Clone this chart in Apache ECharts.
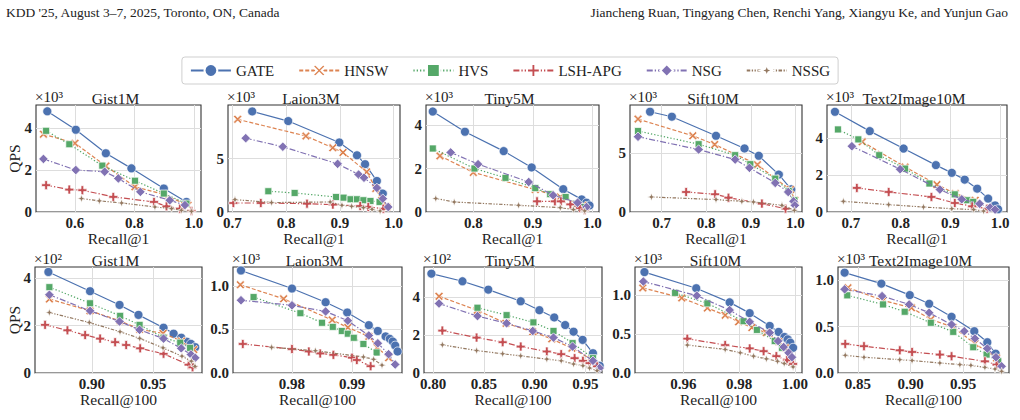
<!DOCTYPE html>
<html><head><meta charset="utf-8">
<script src="https://cdn.jsdelivr.net/npm/echarts@6/dist/echarts.min.js"></script>
<style>html,body{margin:0;padding:0;background:#fff}#c{width:1020px;height:420px}</style>
</head><body><div id="c"></div>
<script>
// ---------------- DATA (recall, QPS) ----------------
const methods = ['GATE','HNSW','HVS','LSH-APG','NSG','NSSG'];
const datasets = ['Gist1M','Laion3M','Tiny5M','Sift10M','Text2Image10M'];

// Row 1: Recall@1
const gist_r1_GATE = [[0.507,4800],[0.603,3920],[0.704,2800],[0.790,2080],[0.899,1120],[0.975,480]];
const gist_r1_HNSW = [[0.494,3710],[0.600,3280],[0.704,2190],[0.802,1200],[0.897,850],[0.980,320]];
const gist_r1_HVS = [[0.503,3870],[0.581,3230],[0.692,2210],[0.802,1490],[0.899,880],[0.975,400]];
const gist_r1_LSH = [[0.503,1280],[0.581,1070],[0.625,1040],[0.729,720],[0.866,480],[0.908,270],[0.953,160],[0.992,50]];
const gist_r1_NSG = [[0.494,2530],[0.603,2000],[0.700,1920],[0.746,1600],[0.820,960],[0.919,560],[0.970,330]];
const gist_r1_NSSG = [[0.622,640],[0.682,530],[0.757,430],[0.869,240],[0.925,160],[0.958,80],[0.992,30]];

const laion_r1_GATE = [[0.737,9400],[0.804,8500],[0.899,6500],[0.932,5300],[0.947,4470],[0.969,2900],[0.980,1720]];
const laion_r1_HNSW = [[0.710,8660],[0.837,7100],[0.887,6000],[0.906,5560],[0.950,3750],[0.967,2200],[0.978,1100],[0.988,470]];
const laion_r1_HVS = [[0.767,1940],[0.816,1780],[0.893,1400],[0.907,1340],[0.920,1190],[0.932,1190],[0.944,1100],[0.957,1030],[0.974,940]];
const laion_r1_LSH = [[0.702,840],[0.753,840],[0.839,780],[0.887,690],[0.938,560],[0.953,470],[0.981,310]];
const laion_r1_NSG = [[0.725,6900],[0.794,6100],[0.896,4500],[0.935,3500],[0.945,3200],[0.969,2250],[0.980,1250],[0.990,470]];
const laion_r1_NSSG = [[0.705,1160],[0.773,880],[0.882,940],[0.904,630],[0.922,530],[0.944,410],[0.960,250],[0.975,90]];

const tiny_r1_GATE = [[0.732,4620],[0.786,3690],[0.851,2800],[0.898,2050],[0.951,1050],[0.982,580],[0.990,430],[0.995,300]];
const tiny_r1_HNSW = [[0.744,2580],[0.800,1820],[0.904,1030],[0.946,690],[0.984,310]];
const tiny_r1_HVS = [[0.732,2920],[0.802,2000],[0.854,1570],[0.904,1100],[0.929,820],[0.955,690],[0.973,380],[0.987,230]];
const tiny_r1_LSH = [[0.907,490],[0.937,490],[0.947,490],[0.963,350],[0.979,180],[0.987,80]];
const tiny_r1_NSG = [[0.762,2740],[0.808,2200],[0.893,1380],[0.934,770],[0.975,430],[0.990,230]];
const tiny_r1_NSSG = [[0.737,620],[0.768,460],[0.876,310],[0.946,200],[0.968,110],[0.987,50]];

const sift_r1_GATE = [[0.674,8470],[0.723,8050],[0.822,6440],[0.886,5370],[0.918,4750],[0.963,3160],[0.991,1920]];
const sift_r1_HNSW = [[0.647,7850],[0.770,6440],[0.819,5700],[0.915,4000],[0.955,2800],[0.989,1900],[0.999,1000]];
const sift_r1_HVS = [[0.647,6840],[0.783,5730],[0.865,4800],[0.899,4040],[0.955,2820],[0.985,1780],[0.998,990]];
const sift_r1_LSH = [[0.755,1690],[0.820,1500],[0.850,1210],[0.925,710],[0.978,280]];
const sift_r1_NSG = [[0.647,6360],[0.783,5280],[0.865,4430],[0.897,3730],[0.955,2460],[0.984,1690],[0.996,900],[0.999,560]];
const sift_r1_NSSG = [[0.677,1270],[0.822,1050],[0.880,900],[0.906,850],[0.970,560],[0.998,140]];

const t2i_r1_GATE = [[0.668,5450],[0.738,4400],[0.806,3450],[0.871,2550],[0.903,2130],[0.929,1760],[0.954,1270],[0.976,730],[0.990,360],[0.996,150]];
const t2i_r1_HNSW = [[0.723,3820],[0.809,2450],[0.873,1490],[0.910,1000],[0.950,640]];
const t2i_r1_HVS = [[0.674,4490],[0.715,3950],[0.757,3090],[0.809,2360],[0.858,1550],[0.909,960],[0.934,640],[0.946,550]];
const t2i_r1_LSH = [[0.712,1310],[0.776,1090],[0.862,820],[0.909,490],[0.944,310],[0.974,180]];
const t2i_r1_NSG = [[0.702,3580],[0.799,2330],[0.879,1220],[0.923,690],[0.959,450],[0.980,240],[0.990,130]];
const t2i_r1_NSSG = [[0.685,580],[0.776,400],[0.846,270],[0.903,180],[0.947,130],[0.967,50]];

// Row 2: Recall@100
const gist_r100_GATE = [[0.8647,426],[0.8986,345],[0.9226,287],[0.938,245],[0.9584,191],[0.9666,166],[0.9728,149],[0.9774,132],[0.9807,123],[0.9842,109]];
const gist_r100_HNSW = [[0.8655,312],[0.8986,262],[0.923,220],[0.939,184],[0.958,167],[0.973,135],[0.983,99]];
const gist_r100_HVS = [[0.8655,362],[0.8986,294],[0.9231,241],[0.9389,203],[0.9584,149],[0.972,128],[0.980,106]];
const gist_r100_LSH = [[0.862,203],[0.8802,180],[0.8946,160],[0.9068,145],[0.919,130],[0.928,118],[0.9394,104],[0.9584,81],[0.9788,35],[0.982,24]];
const gist_r100_NSG = [[0.8655,330],[0.8986,262],[0.9226,217],[0.9389,182],[0.9584,145],[0.9728,104],[0.9807,78],[0.9842,64]];
const gist_r100_NSSG = [[0.8655,255],[0.898,213],[0.923,174],[0.939,146],[0.958,106],[0.9734,71],[0.981,50],[0.984,28]];

const laion_r100_GATE = [[0.9715,1176],[0.98,969],[0.9856,812],[0.9892,694],[0.9928,549],[0.9943,482],[0.9956,420],[0.9963,392],[0.9968,361],[0.9972,314],[0.9976,247]];
const laion_r100_HNSW = [[0.9714,1012],[0.9786,851],[0.9867,608],[0.9893,522],[0.9928,420],[0.9942,294],[0.9961,176]];
const laion_r100_HVS = [[0.9736,871],[0.9814,686],[0.985,576],[0.9868,529],[0.9883,482],[0.9893,451],[0.9903,404],[0.9919,333],[0.9941,235]];
const laion_r100_LSH = [[0.9718,333],[0.98,275],[0.9828,247],[0.9847,224],[0.9869,208],[0.99,176],[0.9908,149],[0.9931,78]];
const laion_r100_NSG = [[0.9715,835],[0.98,776],[0.9856,706],[0.9893,600],[0.9928,431],[0.9943,341],[0.9961,216],[0.9972,98]];
const laion_r100_NSSG = [[0.9766,294],[0.9839,255],[0.9919,184],[0.9936,157],[0.995,90]];

const tiny_r100_GATE = [[0.7984,522],[0.829,482],[0.8544,438],[0.8864,377],[0.9048,330],[0.9194,292],[0.9302,252],[0.9385,217],[0.9474,174],[0.9576,104],[0.9642,38]];
const tiny_r100_HNSW = [[0.8059,403],[0.8435,330],[0.8719,261],[0.8983,217],[0.917,179],[0.9368,130],[0.9566,70]];
const tiny_r100_HVS = [[0.8438,343],[0.8725,304],[0.8989,266],[0.9187,221],[0.9375,157],[0.9576,78]];
const tiny_r100_LSH = [[0.8092,223],[0.8429,186],[0.8686,162],[0.8864,139],[0.9121,113],[0.9263,99],[0.9395,78],[0.9477,64],[0.9543,52],[0.9616,35]];
const tiny_r100_NSG = [[0.8059,365],[0.8438,299],[0.8725,261],[0.8983,221],[0.9187,186],[0.9375,139],[0.9576,64],[0.9642,26]];
const tiny_r100_NSSG = [[0.8092,148],[0.8429,118],[0.8686,101],[0.8864,90],[0.9121,73],[0.9263,64],[0.9385,47],[0.9477,38],[0.9543,26],[0.9616,12]];

const sift_r100_GATE = [[0.946,1293],[0.9646,1086],[0.9766,905],[0.9838,767],[0.991,603],[0.9942,526],[0.9963,461],[0.9975,431],[0.9984,388],[0.9994,323]];
const sift_r100_HNSW = [[0.9454,1090],[0.9594,961],[0.9686,832],[0.975,741],[0.9798,655],[0.9846,582],[0.9898,517],[0.9942,401],[0.9966,323]];
const sift_r100_HVS = [[0.957,1026],[0.9686,892],[0.9816,664],[0.9864,552],[0.9928,409],[0.9954,323]];
const sift_r100_LSH = [[0.9614,440],[0.975,358],[0.9838,315],[0.9888,280],[0.9934,216],[0.9972,164],[0.9994,116]];
const sift_r100_NSG = [[0.9456,1172],[0.9648,991],[0.9766,806],[0.9838,655],[0.991,517],[0.994,409],[0.996,332],[0.9978,259],[0.999,203]];
const sift_r100_NSSG = [[0.9614,358],[0.975,302],[0.9804,259],[0.9852,216],[0.9898,181],[0.9938,151],[0.9962,121],[0.9994,78]];

const t2i_r100_GATE = [[0.8373,1083],[0.8722,964],[0.8992,841],[0.9176,747],[0.9389,606],[0.9605,451],[0.9729,332],[0.9808,209]];
const t2i_r100_HNSW = [[0.8405,920],[0.8738,783],[0.9008,704],[0.9192,578],[0.9405,495],[0.9611,318],[0.9817,162]];
const t2i_r100_HVS = [[0.8398,838],[0.8738,740],[0.8944,661],[0.9192,542],[0.9405,444],[0.9595,278],[0.9722,199],[0.9833,126]];
const t2i_r100_LSH = [[0.8379,314],[0.8557,289],[0.8897,245],[0.9014,227],[0.9278,199],[0.9389,181],[0.9706,126],[0.9817,90]];
const t2i_r100_NSG = [[0.8373,903],[0.8729,830],[0.8986,740],[0.9176,650],[0.9389,523],[0.951,451],[0.9611,372],[0.9729,264],[0.9811,170],[0.9865,72]];
const t2i_r100_NSSG = [[0.8379,191],[0.8557,170],[0.8897,144],[0.9014,134],[0.9278,108],[0.9468,90],[0.9573,83],[0.9706,61],[0.9802,43],[0.9865,18]];

// Axis ranges and tick labels
const xRange = [[0.469,1.024],[0.692,1.012],[0.7206,1.011],[0.629,1.015],[0.652,1.014],
                [0.8538,0.9897],[0.97017,0.99833],[0.7911,0.9665],[0.9426,1.0026],[0.831,0.9935]];
const yMax = [5100,10000,4920,9040,5820, 447,1216,557,1358,1144];
const yScale = [1000,1000,1000,1000,1000, 100,1000,100,1000,1000];
const xTicks = [[0.6,0.8,1.0],[0.7,0.8,0.9,1.0],[0.8,0.9,1.0],[0.7,0.8,0.9,1.0],[0.7,0.8,0.9,1.0],
                [0.90,0.95],[0.98,0.99],[0.80,0.85,0.90,0.95],[0.96,0.98,1.00],[0.85,0.90,0.95]];
const yTicks = [[0,2000,4000],[0,5000],[0,2000,4000],[0,5000],[0,2000,4000],
                [0,200,400],[0,500,1000],[0,200,400],[0,500,1000],[0,500,1000]];
const xDecimals = [1,1,1,1,1, 2,2,2,2,2];
const yDecimals = [0,0,0,0,0, 0,1,0,1,1];
const multLabel = ['×10³','×10³','×10³','×10³','×10³','×10²','×10³','×10²','×10³','×10³'];
const xNames = ['Recall@1','Recall@100'];

const panelData = [
  [gist_r1_GATE,gist_r1_HNSW,gist_r1_HVS,gist_r1_LSH,gist_r1_NSG,gist_r1_NSSG],
  [laion_r1_GATE,laion_r1_HNSW,laion_r1_HVS,laion_r1_LSH,laion_r1_NSG,laion_r1_NSSG],
  [tiny_r1_GATE,tiny_r1_HNSW,tiny_r1_HVS,tiny_r1_LSH,tiny_r1_NSG,tiny_r1_NSSG],
  [sift_r1_GATE,sift_r1_HNSW,sift_r1_HVS,sift_r1_LSH,sift_r1_NSG,sift_r1_NSSG],
  [t2i_r1_GATE,t2i_r1_HNSW,t2i_r1_HVS,t2i_r1_LSH,t2i_r1_NSG,t2i_r1_NSSG],
  [gist_r100_GATE,gist_r100_HNSW,gist_r100_HVS,gist_r100_LSH,gist_r100_NSG,gist_r100_NSSG],
  [laion_r100_GATE,laion_r100_HNSW,laion_r100_HVS,laion_r100_LSH,laion_r100_NSG,laion_r100_NSSG],
  [tiny_r100_GATE,tiny_r100_HNSW,tiny_r100_HVS,tiny_r100_LSH,tiny_r100_NSG,tiny_r100_NSSG],
  [sift_r100_GATE,sift_r100_HNSW,sift_r100_HVS,sift_r100_LSH,sift_r100_NSG,sift_r100_NSSG],
  [t2i_r100_GATE,t2i_r100_HNSW,t2i_r100_HVS,t2i_r100_LSH,t2i_r100_NSG,t2i_r100_NSSG]
];

// ---------------- LAYOUT / STYLE ----------------
const SERIF = '"Liberation Serif","Times New Roman",serif';
const gridRects = [
  [36,105,165,107],[228,105,172,107],[426,105,173,107],[630,105,172,107],[827,105,180,107],
  [35,267,167,106],[233,267,169,106],[424,267,178,106],[635,267,167,106],[838,267,171,106]
];
const P_X = 'path://M1.8,0 L5,3.2 L8.2,0 L10,1.8 L6.8,5 L10,8.2 L8.2,10 L5,6.8 L1.8,10 L0,8.2 L3.2,5 L0,1.8 Z';
const P_PLUS = 'path://M3.5,0 H6.5 V3.5 H10 V6.5 H6.5 V10 H3.5 V6.5 H0 V3.5 H3.5 Z';
const P_STAR = 'path://M5,0 L6.3,3.7 L10,5 L6.3,6.3 L5,10 L3.7,6.3 L0,5 L3.7,3.7 Z';
const styles = {
  'GATE':   {color:'#4C72B0', symbol:'circle', size:9, dash:'solid'},
  'HNSW':   {color:'#DD8452', symbol:P_X, size:8.5, dash:[4,2]},
  'HVS':    {color:'#55A868', symbol:'rect', size:7, dash:[1.3,2]},
  'LSH-APG':{color:'#C44E52', symbol:P_PLUS, size:9, dash:[6,2,1.3,2]},
  'NSG':    {color:'#8172B3', symbol:'diamond', size:9.5, dash:[6,2,1.3,2]},
  'NSSG':   {color:'#937860', symbol:P_STAR, size:8, dash:[3.5,1.5,1.3,1.5,1.3,1.5]}
};

const grids = [], xAxes = [], yAxes = [], series = [], graphics = [];
gridRects.forEach((r, i) => {
  grids.push({left:r[0], top:r[1], width:r[2], height:r[3], show:true, borderColor:'#333', borderWidth:1.1, backgroundColor:'#fff'});
  const row = i < 5 ? 0 : 1;
  xAxes.push({
    type:'value', gridIndex:i, min:xRange[i][0], max:xRange[i][1],
    axisLine:{show:false}, axisTick:{show:false, customValues:xTicks[i]},
    axisLabel:{customValues:xTicks[i], margin:3, fontFamily:SERIF, fontWeight:'bold', fontSize:15, color:'#222',
      formatter:(v)=>v.toFixed(xDecimals[i])},
    splitLine:{show:true, lineStyle:{color:'#dddddd', width:1}},
    name:xNames[row], nameLocation:'middle', nameGap:14,
    nameTextStyle:{fontFamily:SERIF, fontSize:15.5, color:'#222'}
  });
  yAxes.push({
    type:'value', gridIndex:i, min:0, max:yMax[i],
    axisLine:{show:false}, axisTick:{show:false, customValues:yTicks[i]},
    axisLabel:{customValues:yTicks[i], margin:4, fontFamily:SERIF, fontWeight:'bold', fontSize:15, color:'#222',
      formatter:(v)=>(v/yScale[i]).toFixed(yDecimals[i])},
    splitLine:{show:true, lineStyle:{color:'#dddddd', width:1}}
  });
  methods.forEach((m, k) => {
    const s = styles[m];
    series.push({
      type:'line', name:m, xAxisIndex:i, yAxisIndex:i, data:panelData[i][k],
      symbol:s.symbol, symbolSize:s.size, showSymbol:true, animation:false, silent:true,
      lineStyle:{color:s.color, width:1.2, type:s.dash},
      itemStyle:{color:s.color, borderColor:'#fff', borderWidth:0.7},
      z: 2 + k
    });
  });
  graphics.push({type:'text', x:r[0] + r[2]/2 - 3, y:r[1] - 7,
    style:{text:datasets[i % 5], font:'15.5px ' + SERIF, fill:'#222', align:'center', verticalAlign:'middle'}});
  graphics.push({type:'text', x:r[0] - 1, y:r[1] - 8,
    style:{text:multLabel[i], font:'15px ' + SERIF, fill:'#222', align:'left', verticalAlign:'middle'}});
  if (i % 5 === 0) {
    graphics.push({type:'text', x:14, y:r[1] + r[3]/2, rotation:Math.PI/2,
      style:{text:'QPS', font:'15.5px ' + SERIF, fill:'#222', align:'center', verticalAlign:'middle'}});
  }
});
graphics.push({type:'text', x:6, y:12, style:{text:"KDD '25, August 3–7, 2025, Toronto, ON, Canada", font:'13.5px ' + SERIF, fill:'#222', align:'left', verticalAlign:'middle'}});
graphics.push({type:'text', x:1008, y:12, style:{text:'Jiancheng Ruan, Tingyang Chen, Renchi Yang, Xiangyu Ke, and Yunjun Gao', font:'13.5px ' + SERIF, fill:'#222', align:'right', verticalAlign:'middle'}});

const chart = echarts.init(document.getElementById('c'), null, {renderer:'svg'});
chart.setOption({
  animation:false,
  backgroundColor:'#fff',
  legend:{data:methods, top:57, left:'center', itemWidth:40, itemHeight:16, itemGap:24,
    padding:[6,8,6,8], borderColor:'#cfcfcf', borderWidth:1, borderRadius:3,
    textStyle:{fontFamily:SERIF, fontSize:15, color:'#222'}},
  grid:grids, xAxis:xAxes, yAxis:yAxes, series:series, graphic:graphics
});
</script></body></html>
